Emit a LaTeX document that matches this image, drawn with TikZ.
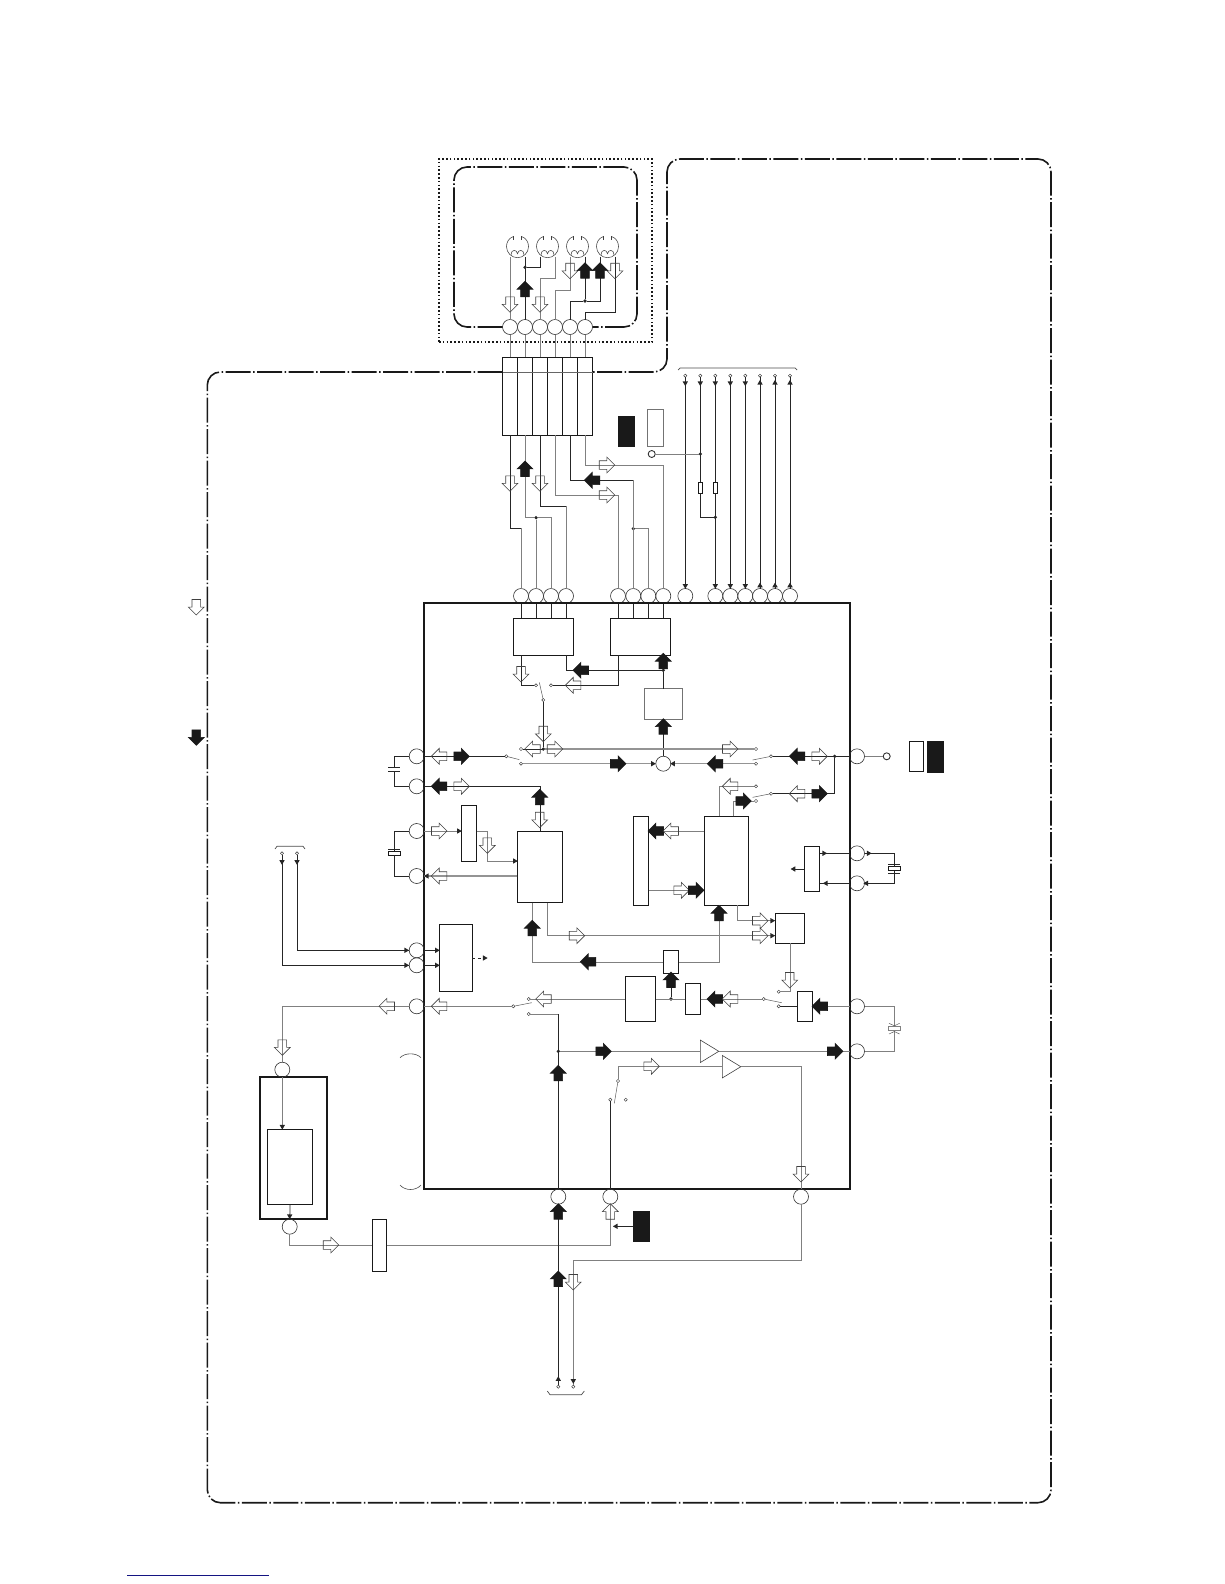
\documentclass[tikz,border=0pt]{standalone}
\usetikzlibrary{shapes.geometric,shapes.arrows}
\definecolor{inkblue}{RGB}{20,20,130}
\tikzset{
  wire/.style={black!85,line width=0.75pt},
  gwire/.style={black!50,line width=0.85pt},
  gwireb/.style={black!42,line width=1.2pt},
  box/.style={draw=black!90,line width=0.8pt,inner sep=0,outer sep=0},
  keybox/.style={draw=black!90,fill=black!90,inner sep=0,outer sep=0},
  pinc/.style={circle,draw=black!80,line width=0.6pt,inner sep=0,outer sep=0,minimum size=15pt},
  ring/.style={circle,draw=black!80,line width=0.9pt,inner sep=0,outer sep=0,minimum size=7pt},
  term/.style={circle,draw=black!80,line width=0.45pt,inner sep=0,outer sep=0,minimum size=3.2pt},
  junc/.style={circle,fill=black!85,inner sep=0,outer sep=0,minimum size=3.6pt},
  tipmark/.style={regular polygon,regular polygon sides=3,fill=black!85,inner sep=0,outer sep=0,minimum size=6.2pt,shape border rotate=#1},
  blockarr/.style={single arrow,single arrow head extend=3.6pt,inner sep=4pt,outer sep=0,minimum width=15.5pt,minimum height=15.5pt,line width=0.6pt},
  oarr/.style={blockarr,draw=black!75,shape border rotate=#1,shift={(#1+180:1.9pt)}},
  farr/.style={blockarr,draw=black!90,fill=black!90,shape border rotate=#1,shift={(#1+180:1.9pt)}},
  ampl/.style={isosceles triangle,isosceles triangle stretches,draw=black!75,line width=0.6pt,inner sep=0,outer sep=0,minimum height=18.5pt,minimum width=22.5pt,anchor=lower side},
  framewire/.style={black!90,line width=1.6pt,dash pattern=on 25pt off 2.5pt on 1.5pt off 2.5pt,rounded corners=13pt},
  lamp/.pic={
    \draw[black!75,line width=0.55pt] (-3.8,-10.3) -- (-3.8,-6.5);
    \draw[black!75,line width=0.55pt] (3.8,-10.3) -- (3.8,-6.5);
    \draw[black!75,line width=0.55pt] (-3.8,-10.3) .. controls (-9,-8.5) and (-11,-4.5) .. (-11,0) .. controls (-11,6) and (-6,11) .. (0,11) .. controls (6,11) and (11,6) .. (11,0) .. controls (11,-4.5) and (9,-8.5) .. (3.8,-10.3);
    \draw[black!75,line width=0.55pt] (-6.5,8) .. controls (-6.5,2.5) and (-0.5,2.5) .. (0,7) .. controls (0.5,2.5) and (6.5,2.5) .. (6.5,8);
    \coordinate (-l) at (-7.5,10);
    \coordinate (-r) at (7.5,10);
  }
}
\begin{document}
\begin{tikzpicture}[x=1pt,y=-1pt]
\useasboundingbox (0,0) rectangle (1224,1584);

\node[pinc] (p1) at (510,327) {};
\node[pinc] (p2) at (525,327) {};
\node[pinc] (p3) at (540,327) {};
\node[pinc] (p4) at (555,327) {};
\node[pinc] (p5) at (570,327) {};
\node[pinc] (p6) at (585,327) {};
\node[box,minimum width=15pt,minimum height=78pt] (c1) at (510,396) {};
\node[box,minimum width=15pt,minimum height=78pt] (c2) at (525,396) {};
\node[box,minimum width=15pt,minimum height=78pt] (c3) at (540,396) {};
\node[box,minimum width=15pt,minimum height=78pt] (c4) at (555,396) {};
\node[box,minimum width=15pt,minimum height=78pt] (c5) at (570,396) {};
\node[box,minimum width=15pt,minimum height=78pt] (c6) at (585,396) {};
\node[draw=black!90,line width=1.4pt,dash pattern=on 1.6pt off 2.2pt,inner sep=0,minimum width=213pt,minimum height=183pt] (shield) at (545.5,250.5) {};
\pic (lamp1) at (517.5,246.7) {lamp};
\pic (lamp2) at (547.5,246.7) {lamp};
\pic (lamp3) at (577.5,246.7) {lamp};
\pic (lamp4) at (607.5,246.7) {lamp};
\node[junc] (jlamp1) at (525,267.3) {};
\node[junc] (jlamp2) at (585,301) {};

\node[pinc] (q1) at (521,596) {};
\node[pinc] (q2) at (536,596) {};
\node[pinc] (q3) at (551,596) {};
\node[pinc] (q4) at (566,596) {};
\node[pinc] (r1) at (618,596) {};
\node[pinc] (r2) at (633.3,596) {};
\node[pinc] (r3) at (648.3,596) {};
\node[pinc] (r4) at (663.3,596) {};
\node[pinc] (s1) at (685.3,596) {};
\node[pinc] (s2) at (715.3,596) {};
\node[pinc] (s3) at (730.3,596) {};
\node[pinc] (s4) at (745.3,596) {};
\node[pinc] (s5) at (760,596) {};
\node[pinc] (s6) at (775,596) {};
\node[pinc] (s7) at (790,596) {};
\node[term] (a1) at (685.3,375.7) {};
\node[term] (a2) at (700.3,375.7) {};
\node[term] (a3) at (715.3,375.7) {};
\node[term] (a4) at (730.3,375.7) {};
\node[term] (a5) at (745.3,375.7) {};
\node[term] (a6) at (760,375.7) {};
\node[term] (a7) at (775,375.7) {};
\node[term] (a8) at (790,375.7) {};
\node[box,minimum width=4.5pt,minimum height=11pt] (res1) at (700.3,487.7) {};
\node[box,minimum width=4.5pt,minimum height=11pt] (res2) at (715.3,487.7) {};
\node[junc] (jbus1) at (700.3,454) {};
\node[junc] (jbus2) at (715.3,517.3) {};
\node[ring] (ringa) at (651.7,454) {};
\node[keybox,minimum width=16pt,minimum height=30.7pt] (keya) at (626,431.3) {};
\node[box,draw=black!55,minimum width=15.3pt,minimum height=37pt] (keyb) at (655.3,427.8) {};
\node[junc] (jq) at (536,517.7) {};
\node[junc] (jr) at (633.3,528.7) {};

\node[draw=black!90,line width=2pt,inner sep=0,outer sep=0,minimum width=425.7pt,minimum height=586pt] (ic) at (636.85,896) {};
\node[box,minimum width=60pt,minimum height=37pt] (boxa) at (543.3,636.8) {};
\node[box,minimum width=60pt,minimum height=37pt] (boxb) at (640.3,636.8) {};
\node[box,draw=black!55,line width=1pt,minimum width=37.4pt,minimum height=30.3pt] (boxc) at (663.3,703.9) {};
\node[box,minimum width=45.4pt,minimum height=71.4pt] (boxd) at (540,867) {};
\node[box,minimum width=15.4pt,minimum height=56.4pt] (boxe) at (469,833.5) {};
\node[box,minimum width=15.4pt,minimum height=89pt] (boxf) at (641,860.8) {};
\node[box,minimum width=44.4pt,minimum height=89pt] (boxg) at (726.5,860.8) {};
\node[box,minimum width=15.4pt,minimum height=45.4pt] (boxh) at (812,869) {};
\node[box,minimum width=29.4pt,minimum height=30pt] (boxj) at (790,928.3) {};
\node[box,minimum width=15.4pt,minimum height=23.4pt] (boxk) at (671,962) {};
\node[box,minimum width=30.4pt,minimum height=45pt] (boxl) at (640.5,999) {};
\node[box,minimum width=15.4pt,minimum height=30.4pt] (boxm) at (693,999) {};
\node[box,minimum width=15.4pt,minimum height=30pt] (boxn) at (805,1006.3) {};
\node[box,minimum width=33pt,minimum height=67.4pt] (boxw) at (455.8,958) {};
\node[draw=black!90,line width=2pt,inner sep=0,outer sep=0,minimum width=67.3pt,minimum height=141.7pt] (boxt) at (293.7,1147.8) {};
\node[box,minimum width=45.4pt,minimum height=75pt] (boxu) at (290,1166.8) {};
\node[box,minimum width=14.4pt,minimum height=52.4pt] (boxp) at (379.5,1245.3) {};
\node[keybox,minimum width=16pt,minimum height=30.7pt] (keyc) at (641,1226.3) {};
\node[box,minimum width=14.4pt,minimum height=30.4pt] (keyd) at (916.5,756.5) {};
\node[keybox,minimum width=16pt,minimum height=30.4pt] (keye) at (935,756.5) {};

\node[pinc] (l1) at (416.7,756.3) {};
\node[pinc] (l2) at (416.7,786.3) {};
\node[pinc] (l3) at (416.7,831) {};
\node[pinc] (l4) at (416.7,876) {};
\node[pinc] (l5) at (416.7,950.3) {};
\node[pinc] (l6) at (416.7,965.3) {};
\node[pinc] (l7) at (416.7,1006.3) {};
\node[pinc] (e1) at (857,756.3) {};
\node[pinc] (e2) at (857,853.3) {};
\node[pinc] (e3) at (857,883.3) {};
\node[pinc] (e4) at (857,1006.3) {};
\node[pinc] (e5) at (857,1051.3) {};
\node[pinc] (b1) at (558.3,1196.7) {};
\node[pinc] (b2) at (610.3,1196.7) {};
\node[pinc] (b3) at (801,1196.7) {};
\node[pinc] (u1) at (282.3,1069.7) {};
\node[pinc] (u2) at (289.7,1226.7) {};
\node[pinc] (mix) at (663.3,763.7) {};
\node[ring] (ringb) at (886.7,756.3) {};
\node[term] (lt1) at (282,853.3) {};
\node[term] (lt2) at (297,853.3) {};
\node[term] (bt1) at (558.3,1386.7) {};
\node[term] (bt2) at (573.3,1386.7) {};

\node[term] (sw1p) at (506.3,756.3) {};
\node[term] (sw1a) at (521,749) {};
\node[term] (sw1b) at (521,763.7) {};
\node[term] (sw2a) at (536,685.3) {};
\node[term] (sw2b) at (551,685.3) {};
\node[term] (sw2p) at (543.3,700) {};
\node[term] (sw3p) at (771,756.3) {};
\node[term] (sw3a) at (756,749) {};
\node[term] (sw3b) at (756,763.7) {};
\node[term] (sw4p) at (771,793.7) {};
\node[term] (sw4a) at (756,786.3) {};
\node[term] (sw4b) at (756,801) {};
\node[term] (sw5p) at (513.3,1006.3) {};
\node[term] (sw5a) at (528.7,999) {};
\node[term] (sw5b) at (528.7,1014) {};
\node[term] (sw6p) at (763.7,999) {};
\node[term] (sw6a) at (778.7,991.7) {};
\node[term] (sw6b) at (778.7,1006.3) {};
\node[term] (sw7p) at (618,1081) {};
\node[term] (sw7a) at (610.3,1099.7) {};
\node[term] (sw7b) at (625.7,1099.7) {};

\node[junc] (jsw) at (543.3,749) {};
\node[junc] (jmix) at (663.3,670.3) {};
\node[junc] (jout) at (834.7,756.3) {};
\node[junc] (jk) at (671,999) {};
\node[junc] (jb) at (558.3,1051.3) {};
\node[ampl] (amp1) at (700.3,1051.3) {};
\node[ampl] (amp2) at (722.3,1066.7) {};
\node[box,minimum width=12.4pt,minimum height=4pt] (xtal1) at (394.3,853.3) {};
\node[box,minimum width=12.4pt,minimum height=4pt] (xtal2) at (894.3,868.5) {};
\node[box,draw=black!50,minimum width=12.4pt,minimum height=4pt] (vcap) at (894.3,1028.7) {};
\coordinate (cap1) at (394.3,767.3);
\coordinate (cap2) at (394.3,771.7);
\coordinate (gt1) at (719,816.3);
\coordinate (gt2) at (733.7,816.3);
\coordinate (gb1) at (719,905.3);
\coordinate (gb2) at (737.3,905.3);
\coordinate (db1) at (532.3,902.7);
\coordinate (db2) at (547.3,902.7);
\coordinate (dl1) at (517.3,861);
\coordinate (dl2) at (517.3,876);
\coordinate (jl1) at (775.3,920.7);
\coordinate (jl2) at (775.3,935.7);
\coordinate (fr1) at (648.7,831);
\coordinate (fr2) at (648.7,890.3);
\coordinate (gl1) at (704.3,831);
\coordinate (gl2) at (704.3,890.3);
\coordinate (hout) at (792.7,869);
\coordinate (wout) at (485,958);
\coordinate (qout) at (615,1226.3);
\coordinate (blue1) at (127.3,1575.3);
\coordinate (blue2) at (269,1575.3);

\draw[framewire] (c1.west |- 0,372) -- (207.3,372) -- (207.3,1502.7) -- (1051,1502.7) -- (1051,159) -- (667,159) -- (667,372) -- (c6.east |- 0,372);
\draw[framewire] (p1.west) -- (454,327) -- (454,167) -- (637,167) -- (637,327) -- (p6.east);
\draw[black!60,line width=0.8pt] (c1.west |- 0,372) -- (c6.east |- 0,372);
\draw[inkblue,line width=0.9pt] (blue1) -- (blue2);
\draw[black!70,line width=0.6pt] (400,1057.7) .. controls (405,1052.5) and (416,1052.5) .. (421,1057.7);
\draw[black!70,line width=0.6pt] (400,1185) .. controls (405,1191) and (416,1191) .. (421,1185);

\draw[gwire] (p1) -- (c1);
\draw[gwire] (p2) -- (c2);
\draw[gwire] (p3) -- (c3);
\draw[gwire] (p4) -- (c4);
\draw[gwire] (p5) -- (c5);
\draw[gwire] (p6) -- (c6);
\draw[gwire] (p1) -- (lamp1-l);
\draw[wire] (p2) -- (lamp1-r);
\draw[wire] (lamp2-l) |- (jlamp1);
\draw[gwire] (lamp2-r) |- (540,278.3) -- (p3);
\draw[gwire] (lamp3-l) |- (555,290) -- (p4);
\draw[wire] (lamp3-r) -- (jlamp2) -- (570,301) -- (p5);
\draw[wire] (lamp4-l) |- (jlamp2);
\draw[wire] (lamp4-r) |- (585,312.3) -- (p6);

\draw[wire] (c1.south) |- (521,528.3);
\draw[gwire] (521,528.3) -- (q1);
\draw[gwire] (c2.south) |- (jq) -- (551,517.7) -- (q3);
\draw[gwire] (jq) -- (q2);
\draw[wire] (c3.south) |- (566,506.3);
\draw[gwire] (566,506.3) -- (q4);
\draw[gwire] (c4.south) |- (618,495) -- (r1);
\draw[wire] (c5.south) |- (633.3,480.3);
\draw[gwire] (633.3,480.3) -- (r2);
\draw[gwire] (jr) -| (r3);
\draw[gwire] (c6.south) |- (663.3,465) -- (r4);
\draw[wire] (a1) -- (s1);
\draw[wire] (a2) -- (res1);
\draw[wire] (res1) |- (jbus2);
\draw[wire] (a3) -- (res2);
\draw[wire] (res2) -- (s2);
\draw[wire] (a4) -- (s3);
\draw[wire] (a5) -- (s4);
\draw[wire] (a6) -- (s5);
\draw[wire] (a7) -- (s6);
\draw[wire] (a8) -- (s7);
\draw[gwire] (ringa) -- (jbus1);
\draw[black!70,line width=0.7pt] (678,370) -- (680,368) -- (795,368) -- (797,370);
\draw[black!70,line width=0.7pt] (275,849) -- (277,846.3) -- (303,846.3) -- (305,849);
\draw[black!70,line width=0.7pt] (547.3,1391) -- (550,1394.7) -- (581.5,1394.7) -- (584.3,1391);

\draw[wire] (q1) -- (q1 |- boxa.north);
\draw[wire] (q2) -- (q2 |- boxa.north);
\draw[wire] (q3) -- (q3 |- boxa.north);
\draw[wire] (q4) -- (q4 |- boxa.north);
\draw[wire] (r1) -- (r1 |- boxb.north);
\draw[wire] (r2) -- (r2 |- boxb.north);
\draw[wire] (r3) -- (r3 |- boxb.north);
\draw[wire] (r4) -- (r4 |- boxb.north);
\draw[wire] (q1 |- boxa.south) |- (sw2a);
\draw[wire] (q4 |- boxa.south) |- (jmix);
\draw[wire] (sw2b) -| (r1 |- boxb.south);
\draw[wire] (jmix) -- (boxb.south -| jmix);
\draw[wire] (jmix) -- (boxc.north);
\draw[wire] (mix) -- (boxc.south);
\draw[black!65,line width=0.5pt] (sw2p) -- (539.3,682.3);
\draw[wire] (sw2p) -- (jsw);
\draw[wire] (sw1a) -- (jsw);
\draw[gwireb] (jsw) -- (sw3a);
\draw[wire] (l1) -- (sw1p);
\draw[black!65,line width=0.5pt] (sw1p) -- (519.3,759.6);
\draw[gwireb] (sw1b) -- (mix);
\draw[gwireb] (sw3b) -- (mix);
\draw[wire] (e1) -- (sw3p);
\draw[black!65,line width=0.5pt] (sw3p) -- (752.7,760);
\draw[wire] (jout) |- (sw4p);
\draw[black!65,line width=0.5pt] (sw4p) -- (752.7,797.3);
\draw[gwire] (gt1) |- (sw4a);
\draw[gwire] (gt2) |- (sw4b);
\draw[gwire] (e1) -- (ringb);
\draw[wire] (l1) -| (cap1);
\draw[wire] (l2) -| (cap2);
\draw[wire] (388.3,767.3) -- (400.3,767.3);
\draw[wire] (388.3,771.7) -- (400.3,771.7);

\draw[wire] (l2) -| (boxd.north);
\draw[gwire] (l3) -- (boxe.west |- l3);
\draw[gwire] (boxe.east |- l3) -- (487.3,831) |- (dl1);
\draw[gwireb] (dl2) -- (l4);
\draw[wire] (l3) -| (xtal1.north);
\draw[wire] (l4) -| (xtal1.south);
\draw[wire] (388.3,849.3) -- (400.3,849.3);
\draw[gwire] (gl1) -- (fr1);
\draw[gwire] (fr2) -- (gl2);
\draw[gwire] (gb1) |- (boxk.east);
\draw[gwire] (gb2) |- (jl1);
\draw[gwire] (db2) |- (jl2);
\draw[gwire] (db1) |- (boxk.west);
\draw[wire] (e2) -- (boxh.east |- e2);
\draw[wire] (e3) -- (boxh.east |- e3);
\draw[wire] (boxh.west) -- (hout);
\draw[wire] (e2) -| (xtal2.north);
\draw[wire] (e3) -| (xtal2.south);
\draw[wire] (888.3,864.6) -- (900.3,864.6);
\draw[wire] (888.3,873) -- (900.3,873);
\draw[gwire] (boxl.east) -- (boxm.west);
\draw[wire] (jk) -- (boxk.south);
\draw[gwire] (boxm.east) -- (sw6p);
\draw[black!65,line width=0.5pt] (sw6p) -- (781.7,1002.7);
\draw[gwire] (sw6a) -| (boxj.south);
\draw[wire] (sw6b) -- (boxn.west);
\draw[gwire] (e4) -- (boxn.east);
\draw[gwire] (e4) -| (vcap.north);
\draw[gwire] (e5) -| (vcap.south);
\draw[black!65,line width=0.5pt] (889,1023.3) -- (894.3,1025.8) -- (899.6,1023.3);
\draw[black!65,line width=0.5pt] (889,1034) -- (894.3,1031.5) -- (899.6,1034);
\draw[gwire] (sw5a) -- (boxl.west);
\draw[gwire] (l7) -- (sw5p);
\draw[black!65,line width=0.5pt] (sw5p) -- (531.7,1002.7);
\draw[gwire] (l7) -| (u1);
\draw[gwire] (u1) -- (u1 |- boxu.north);
\draw[wire] (boxu.south) -- (u2);
\draw[gwire] (u2) |- (boxp.west);
\draw[gwire] (boxp.east) -| (b2);
\draw[wire] (lt1) |- (l6);
\draw[wire] (lt2) |- (l5);
\draw[wire] (l5) -- (boxw.west |- l5);
\draw[wire] (l6) -- (boxw.west |- l6);
\draw[wire,dash pattern=on 3pt off 2.5pt] (boxw.east) -- (wout);

\draw[gwire] (sw5b) -- (558.3,1014);
\draw[wire] (558.3,1014) -- (b1);
\draw[gwire] (jb) -- (amp1.lower side);
\draw[gwire] (amp1.apex) -- (e5);
\draw[wire] (b1) -- (bt1);
\draw[wire] (b2) -- (sw7a);
\draw[black!65,line width=0.5pt] (sw7p) -- (614.3,1103.3);
\draw[gwire] (sw7p) |- (amp2.lower side);
\draw[gwire] (amp2.apex) -| (b3);
\draw[gwire] (b3) |- (573.3,1260) -- (bt2);
\draw[wire] (keyc.west) -- (qout);

\node[oarr=270] (oa1) at (510,304.3) {};
\node[farr=90] (fa1) at (525,289.3) {};
\node[oarr=270] (oa2) at (540,304.3) {};
\node[oarr=270] (oa3) at (570,270.7) {};
\node[farr=90] (fa2) at (585,270.7) {};
\node[farr=90] (fa3) at (600,270.7) {};
\node[oarr=270] (oa4) at (615,270.7) {};
\node[oarr=270] (oa5) at (510,483.3) {};
\node[farr=90] (fa4) at (525,469) {};
\node[oarr=270] (oa6) at (540,483.3) {};
\node[oarr=0] (oa7) at (606.7,465) {};
\node[farr=180] (fa5) at (592.3,480.3) {};
\node[oarr=0] (oa8) at (606.7,495) {};
\node[oarr=270] (oa9) at (196.3,607) {};
\node[farr=270] (fa6) at (196.3,737.3) {};
\node[oarr=270] (oa10) at (521,674) {};
\node[farr=180] (fa7) at (581,670.3) {};
\node[oarr=180] (oa11) at (573.3,685.3) {};
\node[farr=90] (fa8) at (663.3,661.3) {};
\node[farr=90] (fa9) at (663.3,726.7) {};
\node[oarr=270] (oa12) at (543.3,733.7) {};
\node[oarr=180] (oa13) at (532.7,749) {};
\node[oarr=0] (oa14) at (554.7,749) {};
\node[oarr=0] (oa15) at (730,749) {};
\node[oarr=180] (oa16) at (439.3,756.3) {};
\node[farr=0] (fa10) at (461.3,756.3) {};
\node[farr=0] (fa11) at (618,763.7) {};
\node[farr=180] (fa12) at (439.3,786.3) {};
\node[oarr=0] (oa17) at (461.3,786.3) {};
\node[farr=90] (fa13) at (539.7,797.3) {};
\node[oarr=270] (oa18) at (539.7,819.7) {};
\node[oarr=0] (oa19) at (439,831) {};
\node[oarr=270] (oa20) at (487.3,845.3) {};
\node[oarr=180] (oa21) at (439.3,876) {};
\node[farr=180] (fa14) at (656,831) {};
\node[oarr=180] (oa22) at (671,831) {};
\node[oarr=0] (oa23) at (681.3,890.3) {};
\node[farr=0] (fa15) at (696,890.3) {};
\node[oarr=180] (oa24) at (730.3,786.3) {};
\node[farr=0] (fa16) at (743.3,801) {};
\node[oarr=180] (oa25) at (797.3,793.7) {};
\node[farr=0] (fa17) at (819.3,793.7) {};
\node[farr=180] (fa18) at (797.3,756.3) {};
\node[oarr=0] (oa26) at (819.3,756.3) {};
\node[farr=180] (fa19) at (715.3,763.7) {};
\node[oarr=0] (oa27) at (760,920.7) {};
\node[oarr=0] (oa28) at (760,935.7) {};
\node[oarr=0] (oa29) at (576.7,935.7) {};
\node[farr=90] (fa20) at (532.3,928.3) {};
\node[farr=180] (fa21) at (588.3,961.7) {};
\node[farr=90] (fa22) at (719,913.3) {};
\node[farr=90] (fa23) at (671,980) {};
\node[farr=180] (fa24) at (715,999) {};
\node[oarr=180] (oa30) at (730.3,999) {};
\node[oarr=270] (oa31) at (789.7,980) {};
\node[farr=180] (fa25) at (820,1006.3) {};
\node[oarr=180] (oa32) at (387,1006.3) {};
\node[oarr=270] (oa33) at (282.3,1047.3) {};
\node[oarr=180] (oa34) at (439.3,1006.3) {};
\node[oarr=180] (oa35) at (543.7,999) {};
\node[farr=0] (fa26) at (603.3,1051.3) {};
\node[farr=0] (fa27) at (835,1051.3) {};
\node[farr=90] (fa28) at (558.3,1073.3) {};
\node[farr=90] (fa29) at (558.3,1211.7) {};
\node[farr=90] (fa30) at (558.3,1279) {};
\node[oarr=90] (oa36) at (610.3,1211.7) {};
\node[oarr=0] (oa37) at (651.3,1066.3) {};
\node[oarr=270] (oa38) at (801,1174) {};
\node[oarr=270] (oa39) at (573.3,1282) {};
\node[oarr=0] (oa40) at (330.7,1245) {};

\node[tipmark=180] (tm1) at (685.3,383) {};
\node[tipmark=180] (tm2) at (700.3,383) {};
\node[tipmark=180] (tm3) at (715.3,383) {};
\node[tipmark=180] (tm4) at (730.3,383) {};
\node[tipmark=180] (tm5) at (745.3,383) {};
\node[tipmark=0] (tm6) at (760,383) {};
\node[tipmark=0] (tm7) at (775,383) {};
\node[tipmark=0] (tm8) at (790,383) {};
\node[tipmark=180] (tm9) at (685.3,585.7) {};
\node[tipmark=180] (tm10) at (715.3,585.7) {};
\node[tipmark=180] (tm11) at (730.3,585.7) {};
\node[tipmark=180] (tm12) at (745.3,585.7) {};
\node[tipmark=0] (tm13) at (760,585.7) {};
\node[tipmark=0] (tm14) at (775,585.7) {};
\node[tipmark=0] (tm15) at (790,585.7) {};
\node[tipmark=270] (tm16) at (652.7,763.7) {};
\node[tipmark=90] (tm17) at (673.3,763.7) {};
\node[tipmark=270] (tm18) at (458.7,831) {};
\node[tipmark=270] (tm19) at (514.7,861) {};
\node[tipmark=90] (tm20) at (427,876) {};
\node[tipmark=270] (tm21) at (772,920.7) {};
\node[tipmark=270] (tm22) at (772,935.7) {};
\node[tipmark=270] (tm23) at (824,853.3) {};
\node[tipmark=90] (tm24) at (826,883.3) {};
\node[tipmark=270] (tm25) at (868.5,853.3) {};
\node[tipmark=90] (tm26) at (866.5,883.3) {};
\node[tipmark=90] (tm27) at (793.7,869) {};
\node[tipmark=270] (tm28) at (406,950.3) {};
\node[tipmark=270] (tm29) at (406,965.3) {};
\node[tipmark=270] (tm30) at (436.7,950.3) {};
\node[tipmark=270] (tm31) at (436.7,965.3) {};
\node[tipmark=270] (tm32) at (484.5,958) {};
\node[tipmark=180] (tm33) at (282.3,1126.5) {};
\node[tipmark=180] (tm34) at (289.7,1216) {};
\node[tipmark=0] (tm35) at (558.3,1379.3) {};
\node[tipmark=180] (tm36) at (573.3,1380.7) {};
\node[tipmark=90] (tm37) at (616,1226.3) {};
\node[tipmark=180] (tm38) at (282,861.7) {};
\node[tipmark=180] (tm39) at (297,861.7) {};
\end{tikzpicture}
\end{document}
